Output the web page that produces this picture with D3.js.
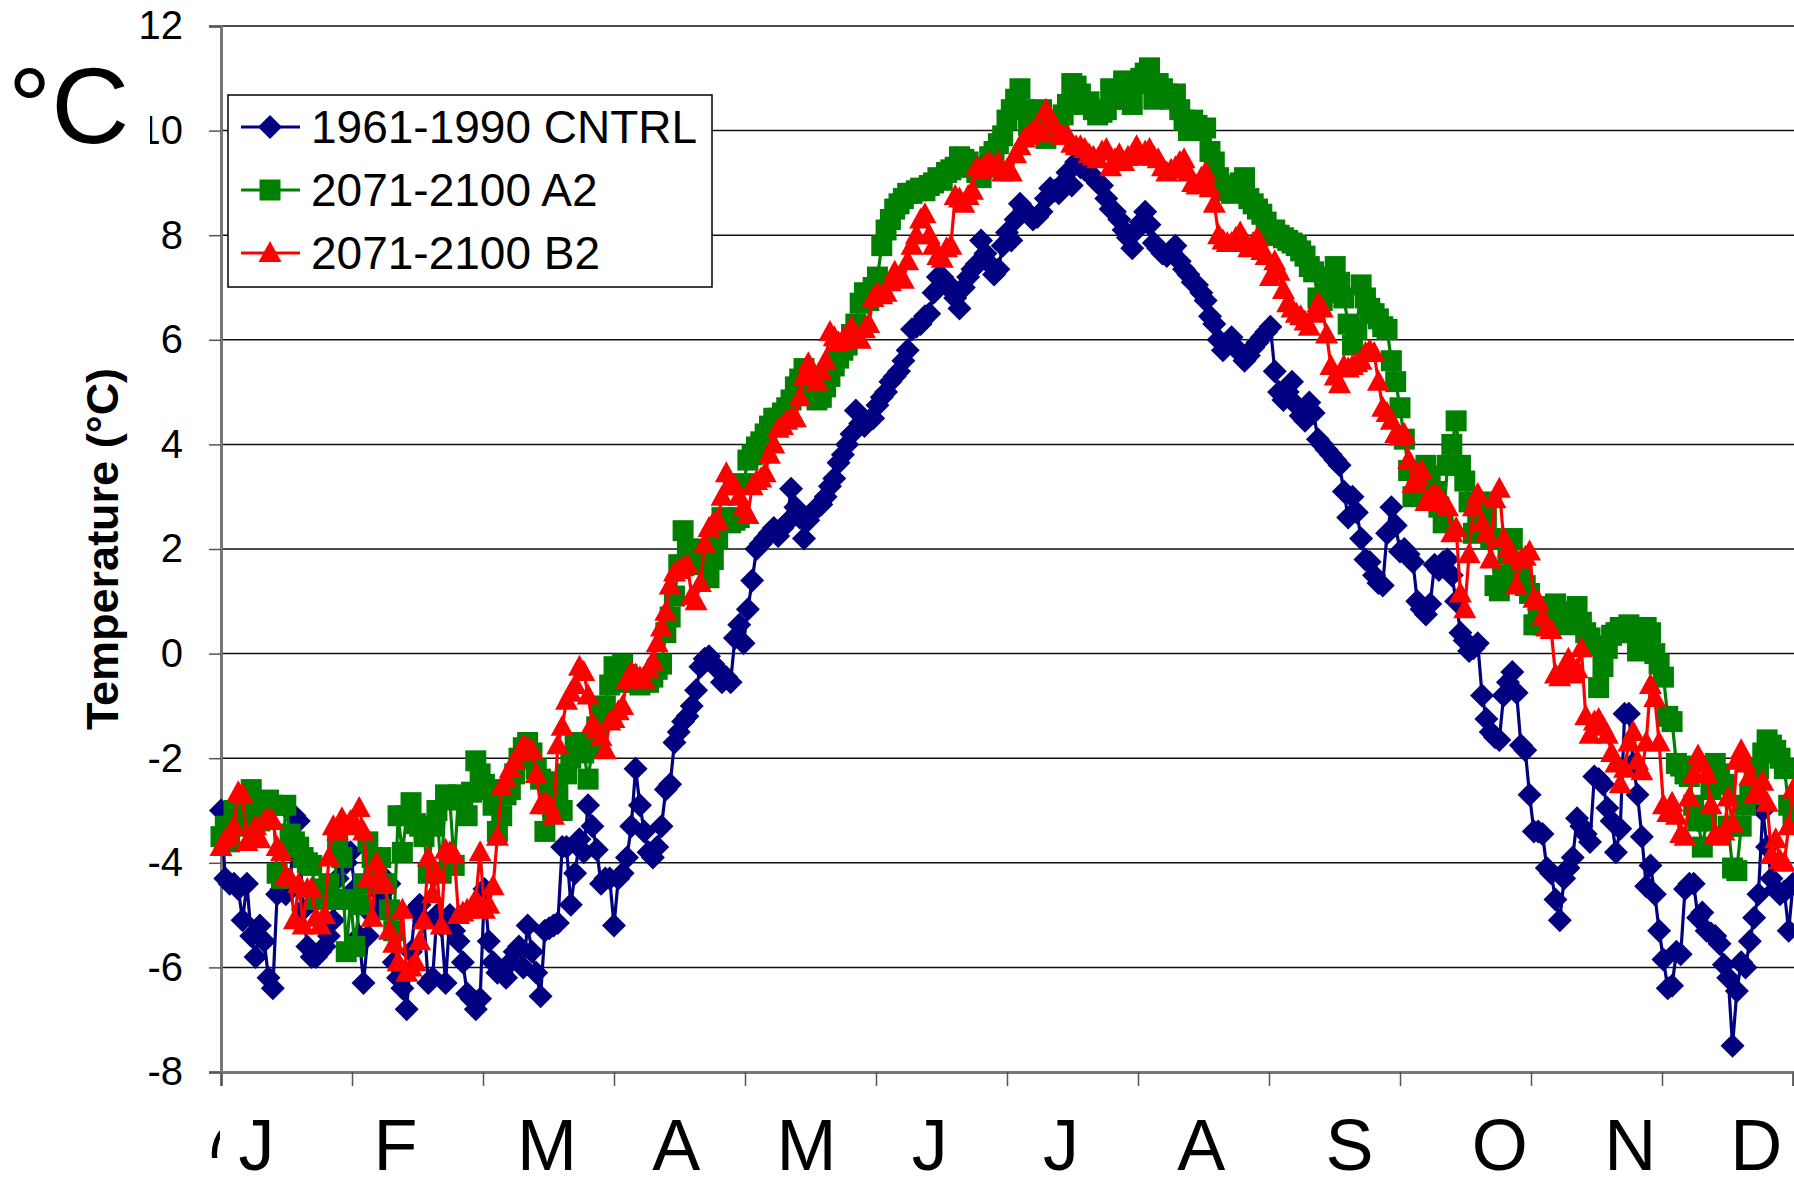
<!DOCTYPE html>
<html>
<head>
<meta charset="utf-8">
<script src="https://cdn.jsdelivr.net/npm/d3@7/dist/d3.min.js"></script>
<style>
  body { margin: 0; background: #fff; }
  svg { display: block; }
  text { font-family: "Liberation Sans", Arial, sans-serif; }
</style>
</head>
<body>
<svg id="chart" width="1794" height="1187"></svg>
<script>
// --- data (daily mean temperature, day 1..365) ---
const seriesNames = ['1961-1990 CNTRL', '2071-2100 A2', '2071-2100 B2'];

const cntrl = [
  -3.0, -4.3, -4.4, -4.4, -4.5, -5.1, -4.4, -5.4, -5.8, -5.2, -5.5, -6.2, -6.4, -4.6, -4.5, -4.6, -4.5, -3.1, -3.2, -4.9, -5.6, -5.8, -5.8, -5.7, -5.6, -5.4, -5.1, -4.3, -3.7, -4.0, -3.8,
  -4.5, -5.4, -6.3, -5.4, -5.0, -4.9, -4.6, -4.3, -4.4, -5.9, -6.2, -6.4, -6.8, -5.7, -4.9, -4.8, -5.1, -6.3, -6.2, -5.0, -5.2, -6.3, -5.0, -5.3, -5.5, -5.9, -6.5, -6.6, -6.8, -6.6, -4.5,
  -5.5, -5.9, -6.1, -6.1, -6.2, -5.9, -5.7, -5.6, -6.0, -5.2, -5.7, -6.1, -6.55, -5.3, -5.25, -5.2, -5.15, -3.7, -3.7, -4.8, -4.2, -3.55, -3.8, -2.9, -3.3, -3.75, -4.4, -4.3, -4.3, -5.2,
  -4.3, -4.2, -3.9, -3.3, -2.2, -2.9, -3.4, -3.8, -3.9, -3.7, -3.3, -2.6, -2.5, -1.7, -1.5, -1.3, -1.2, -1.0, -0.7, -0.25, -0.1, -0.05, -0.2, -0.3, -0.55, -0.45, -0.55, 0.3, 0.55, 0.2, 0.85,
  1.4, 2.0, 2.1, 2.2, 2.3, 2.4, 2.25, 2.4, 2.5, 3.15, 2.8, 2.6, 2.2, 2.55, 2.7, 2.8, 2.85, 3.0, 3.2, 3.35, 3.65, 3.8, 4.0, 4.2, 4.65, 4.4, 4.35, 4.45, 4.5, 4.75,
  4.9, 5.0, 5.2, 5.3, 5.4, 5.6, 5.8, 6.2, 6.25, 6.3, 6.45, 6.5, 6.9, 7.2, 7.2, 7.1, 6.95, 6.8, 6.6, 7.0, 7.2, 7.35, 7.45, 7.9, 7.65, 7.45, 7.25, 7.35, 7.8, 8.05,
  7.9, 8.3, 8.6, 8.5, 8.4, 8.3, 8.35, 8.45, 8.7, 8.9, 8.85, 8.8, 9.0, 9.2, 8.95, 9.4, 9.3, 9.25, 9.2, 9.1, 9.0, 8.95, 8.7, 8.5, 8.45, 8.3, 8.1, 7.95, 7.75, 8.1,
  8.25, 8.45, 8.2, 7.85, 7.75, 7.65, 7.6, 7.7, 7.8, 7.5, 7.35, 7.25, 7.1, 7.05, 6.9, 6.75, 6.45, 6.3, 6.0, 5.8, 5.9, 6.05, 5.85, 5.75, 5.6, 5.7, 5.85, 5.95, 6.05, 6.15, 6.25,
  5.4, 5.0, 4.85, 5.0, 5.2, 4.75, 4.55, 4.45, 4.8, 4.6, 4.1, 4.0, 3.9, 3.8, 3.7, 3.6, 3.1, 2.6, 3.0, 2.7, 2.2, 1.8, 1.75, 1.5, 1.35, 1.3, 2.3, 2.8, 2.45, 1.95,
  2.0, 1.9, 1.75, 1.0, 0.85, 0.75, 0.95, 1.7, 1.6, 1.75, 1.8, 1.5, 1.0, 0.4, 0.25, 0.05, 0.1, 0.2, -0.8, -1.25, -1.5, -1.6, -1.65, -0.8, -0.55, -0.35, -0.75, -1.75, -1.85, -2.7, -3.4,
  -3.4, -3.45, -4.1, -4.2, -4.7, -5.1, -4.3, -4.1, -3.9, -3.15, -3.3, -3.45, -3.6, -2.35, -2.4, -2.5, -2.95, -3.2, -3.8, -3.35, -1.15, -1.15, -2.1, -2.7, -3.5, -4.45, -4.05, -4.6, -5.3, -5.85,
  -6.4, -6.35, -5.7, -5.75, -4.5, -4.4, -4.4, -5.05, -4.95, -5.3, -5.35, -5.4, -5.55, -5.95, -6.2, -7.5, -6.45, -5.9, -6.0, -5.5, -5.05, -4.6, -3.0, -3.7, -4.3, -4.5, -4.6, -4.55, -5.3, -4.4
];

const a2 = [
  -3.5, -3.3, -3.6, -3.0, -3.1, -3.3, -2.9, -2.6, -3.1, -3.2, -3.0, -2.8, -2.9, -4.2, -4.3, -2.9, -3.45, -3.6, -3.7, -3.9, -4.0, -4.05, -4.7, -4.5, -4.6, -4.4, -4.7, -3.6, -3.9, -5.7, -4.7,
  -5.6, -4.8, -4.4, -3.6, -3.9, -4.3, -3.9, -4.4, -4.9, -5.3, -3.1, -3.8, -3.1, -2.85, -3.25, -3.3, -3.5, -4.2, -3.3, -3.0, -4.2, -2.7, -2.8, -4.05, -2.7, -2.75, -3.1, -2.65, -2.05, -2.3, -2.5,
  -2.6, -2.9, -3.4, -3.1, -2.7, -2.6, -2.3, -2.0, -1.8, -1.7, -1.9, -2.2, -2.4, -3.4, -2.5, -2.45, -2.7, -3.0, -2.3, -2.0, -1.75, -1.7, -1.9, -2.4, -1.8, -1.4, -1.1, -1.0, -0.6, -0.25,
  -0.55, -0.2, -0.4, -0.5, -0.55, -0.6, -0.5, -0.55, -0.45, -0.3, -0.2, 0.4, 0.7, 1.1, 1.7, 2.35, 2.0, 1.9, 1.85, 1.7, 2.0, 1.45, 1.8, 2.2, 2.6, 2.55, 2.5, 2.55, 2.6, 3.25, 3.7,
  3.8, 3.95, 4.05, 4.2, 4.35, 4.5, 4.5, 4.6, 4.7, 4.85, 5.1, 5.25, 5.45, 5.3, 5.0, 4.85, 4.9, 5.1, 5.3, 5.5, 5.65, 5.8, 5.9, 6.1, 6.3, 6.7, 6.9, 6.75, 7.0, 7.2,
  7.8, 8.1, 8.3, 8.5, 8.6, 8.7, 8.8, 8.8, 8.85, 8.9, 8.85, 8.95, 9.0, 9.1, 9.05, 9.2, 9.25, 9.3, 9.5, 9.45, 9.4, 9.3, 9.2, 9.1, 9.3, 9.5, 9.6, 9.75, 9.9, 10.2,
  10.4, 10.6, 10.8, 10.4, 10.1, 10.0, 10.3, 10.4, 9.85, 9.95, 10.0, 10.2, 10.3, 10.5, 10.9, 10.85, 10.7, 10.5, 10.55, 10.4, 10.3, 10.35, 10.4, 10.8, 10.6, 10.7, 10.95, 10.6, 10.5, 10.9,
  11.0, 11.1, 11.2, 10.6, 10.9, 10.8, 10.7, 10.6, 10.7, 10.4, 10.2, 10.0, 10.2, 10.1, 10.0, 10.05, 9.6, 9.4, 9.1, 8.95, 8.85, 8.8, 8.9, 9.0, 9.1, 8.7, 8.6, 8.5, 8.4, 8.25, 8.0,
  8.1, 8.0, 7.95, 7.9, 7.85, 7.8, 7.7, 7.6, 7.4, 7.3, 6.8, 6.75, 6.9, 7.2, 7.4, 7.1, 6.8, 6.3, 5.9, 6.2, 7.05, 6.8, 6.6, 6.5, 6.4, 6.25, 6.2, 5.6, 5.2, 4.7,
  4.1, 3.5, 3.0, 3.3, 3.4, 3.6, 3.4, 3.1, 2.8, 2.5, 3.6, 4.0, 4.45, 3.6, 3.3, 2.9, 2.3, 2.6, 2.9, 2.6, 2.2, 1.3, 1.2, 1.5, 1.9, 2.2, 1.7, 1.5, 1.3, 1.15, 0.55,
  0.9, 0.55, 0.7, 0.8, 0.95, 0.8, 0.6, 0.55, 0.7, 0.9, 0.6, 0.4, 0.3, 0.15, -0.65, -0.25, 0.1, 0.35, 0.4, 0.5, 0.45, 0.55, 0.4, 0.05, 0.3, 0.5, 0.4, 0.0, -0.2, -0.45,
  -1.2, -1.3, -2.1, -2.15, -2.3, -2.35, -2.9, -3.2, -3.7, -3.2, -2.6, -2.1, -2.3, -2.5, -3.3, -4.1, -4.15, -3.3, -2.9, -2.7, -2.45, -2.2, -1.9, -1.65, -1.75, -1.85, -2.0, -2.2, -2.9, -3.2
];

const b2 = [
  -3.7, -3.55, -3.45, -3.3, -2.65, -2.7, -3.6, -3.5, -3.3, -3.55, -3.2, -3.15, -3.2, -3.7, -3.8, -4.25, -4.3, -5.1, -4.4, -5.2, -4.5, -4.5, -5.05, -5.2, -5.0, -3.9, -3.3, -3.4, -3.15, -3.3, -3.2,
  -3.25, -2.95, -3.4, -4.3, -5.05, -4.0, -4.3, -4.4, -5.3, -5.55, -5.9, -4.9, -6.1, -6.0, -5.9, -5.5, -5.1, -3.9, -4.6, -4.2, -5.2, -3.75, -3.8, -3.85, -5.0, -4.95, -4.9, -4.85, -4.7, -3.8, -4.9,
  -4.8, -4.45, -3.5, -2.55, -2.4, -2.2, -2.05, -1.9, -1.75, -1.8, -1.85, -2.3, -2.9, -2.85, -2.9, -3.1, -1.75, -1.4, -0.9, -0.75, -0.6, -0.25, -0.35, -0.8, -1.35, -1.45, -1.6, -1.85, -1.3, -1.25,
  -1.1, -1.0, -0.5, -0.35, -0.4, -0.45, -0.5, -0.3, -0.15, 0.2, 0.5, 0.8, 1.3, 1.55, 1.6, 1.65, 1.7, 1.1, 1.0, 1.35, 2.1, 2.4, 2.5, 2.55, 3.0, 3.45, 3.2, 3.2, 3.0, 2.8, 2.65,
  3.2, 3.3, 3.35, 3.45, 3.8, 4.0, 4.3, 4.35, 4.45, 4.5, 4.5, 4.9, 5.3, 5.55, 5.4, 5.2, 5.4, 5.6, 6.15, 6.05, 5.95, 6.0, 6.1, 6.25, 6.1, 6.0, 6.2, 6.3, 6.8, 6.9,
  6.85, 6.9, 7.1, 7.3, 7.2, 7.15, 7.5, 7.8, 8.0, 8.3, 8.4, 8.0, 7.8, 7.6, 7.55, 7.75, 7.8, 8.75, 8.7, 8.6, 8.75, 8.85, 9.3, 9.25, 9.35, 9.4, 9.3, 9.4, 9.2, 9.25,
  9.2, 9.55, 9.7, 9.85, 9.9, 10.0, 10.05, 9.95, 10.4, 10.25, 10.1, 9.95, 9.9, 9.9, 9.75, 9.7, 9.7, 9.65, 9.55, 9.5, 9.45, 9.6, 9.65, 9.3, 9.45, 9.55, 9.4, 9.5, 9.55, 9.7,
  9.5, 9.6, 9.65, 9.5, 9.45, 9.3, 9.2, 9.25, 9.3, 9.4, 9.45, 9.2, 9.0, 8.95, 9.1, 9.2, 8.9, 8.6, 8.0, 7.9, 7.85, 7.85, 7.95, 8.05, 7.9, 7.75, 7.85, 7.95, 7.7, 7.6, 7.2,
  7.5, 7.3, 6.95, 6.7, 6.6, 6.5, 6.45, 6.35, 6.25, 6.5, 6.7, 6.6, 6.1, 5.5, 5.3, 5.15, 5.5, 5.45, 5.5, 5.55, 5.6, 5.75, 5.8, 5.75, 5.2, 4.7, 4.6, 4.45, 4.2, 4.15,
  4.2, 3.7, 3.25, 3.4, 3.5, 2.9, 3.0, 3.05, 3.0, 2.9, 2.8, 2.3, 2.4, 1.15, 0.85, 1.9, 2.8, 3.05, 2.5, 2.3, 1.8, 2.95, 3.15, 2.2, 2.0, 1.9, 1.3, 1.8, 1.85, 1.95, 1.05,
  1.0, 0.7, 0.5, 0.45, -0.4, -0.45, -0.3, -0.1, -0.4, -0.3, 0.1, -1.2, -1.55, -1.3, -1.25, -1.4, -1.55, -1.9, -2.1, -2.5, -2.2, -1.7, -1.5, -2.05, -2.25, -1.7, -0.6, -0.85, -1.7, -2.9,
  -3.05, -2.85, -3.1, -3.45, -3.5, -2.75, -2.3, -1.95, -2.1, -2.3, -2.9, -3.45, -3.5, -3.4, -2.75, -3.25, -2.05, -1.85, -2.1, -2.35, -2.7, -2.6, -2.45, -2.85, -3.85, -3.55, -3.95, -4.0, -3.3, -2.6
];

const yTicks = [-8, -6, -4, -2, 0, 2, 4, 6, 8, 10, 12];
const monthLabels = ['J', 'F', 'M', 'A', 'M', 'J', 'J', 'A', 'S', 'O', 'N', 'D'];
// where each month letter sits, in day units
const monthLabelDay = [9.2, 41.4, 76.5, 106.4, 136.6, 165.1, 195.5, 228, 262.3, 297.1, 327.3, 356.5];

const W = 1794, H = 1187;
const svg = d3.select('#chart');

const x = d3.scaleLinear().domain([1, 365]).range([221, 1793]);
const y = d3.scaleLinear().domain([-8, 12]).range([1072, 26]);

const colors = ['#000080', '#008000', '#ff0000'];

// marker shapes (Excel-like): diamond, square, triangle
function markerPath(kind) {
    if (kind === 0) return 'M0,-12L12,0L0,12L-12,0Z';
    if (kind === 1) return 'M-10.5,-10.5H10.5V10.5H-10.5Z';
    return 'M0,-12L11.5,9L-11.5,9Z';
}

// gridlines
svg.append('g')
    .selectAll('line')
    .data(yTicks.filter(t => t > -8))
    .enter()
    .append('line')
    .attr('x1', x(1)).attr('x2', W)
    .attr('y1', d => y(d)).attr('y2', d => y(d))
    .attr('stroke', '#111')
    .attr('stroke-width', 1.5);

// y axis
const yAxis = d3.axisLeft(y).tickValues(yTicks).tickSize(12).tickPadding(26).tickFormat(d => String(d));
const gy = svg.append('g')
    .attr('transform', `translate(${x(1)},0)`)
    .call(yAxis);
gy.select('.domain').attr('stroke', '#777').attr('stroke-width', 3);
gy.selectAll('.tick line').attr('stroke', '#555').attr('stroke-width', 1.5);
gy.selectAll('.tick text')
    .attr('font-size', 40)
    .attr('fill', '#000')
    .attr('font-family', '"Liberation Sans", Arial, sans-serif');

// x axis with month ticks
const monthTicks = d3.range(13).map(k => 1 + k * 364 / 12);
const xAxis = d3.axisBottom(x).tickValues(monthTicks).tickSize(14).tickFormat('');
const gx = svg.append('g')
    .attr('transform', `translate(0,${y(-8)})`)
    .call(xAxis);
gx.select('.domain').attr('stroke', '#777').attr('stroke-width', 3);
gx.selectAll('.tick line').attr('stroke', '#555').attr('stroke-width', 1.5);

// month letters
svg.append('g')
    .selectAll('text')
    .data(monthLabels)
    .enter()
    .append('text')
    .attr('x', (d, i) => x(monthLabelDay[i]))
    .attr('y', 1170)
    .attr('text-anchor', 'middle')
    .attr('font-size', 72)
    .text(d => d);

// clipped glyph left of the first month letter
svg.append('clipPath').attr('id', 'stubClip')
    .append('rect').attr('x', 200).attr('y', 1110).attr('width', 20).attr('height', 48);
svg.append('text')
    .attr('x', 208).attr('y', 1170)
    .attr('font-size', 60)
    .attr('clip-path', 'url(#stubClip)')
    .text('(');

// series
const line = d3.line()
    .x((d, i) => x(i + 1))
    .y(d => y(d));

[cntrl, a2, b2].forEach((vals, s) => {
    const g = svg.append('g').attr('class', 'series');
    g.append('path')
        .datum(vals)
        .attr('d', line)
        .attr('fill', 'none')
        .attr('stroke', colors[s])
        .attr('stroke-width', 3.2)
        .attr('stroke-linejoin', 'round');
    g.selectAll('path.marker')
        .data(vals)
        .enter()
        .append('path')
        .attr('class', 'marker')
        .attr('d', markerPath(s))
        .attr('transform', (d, i) => `translate(${x(i + 1)},${y(d)})`)
        .attr('fill', colors[s]);
});

// y axis title
svg.append('text')
    .attr('transform', 'translate(118,549) rotate(-90)')
    .attr('text-anchor', 'middle')
    .attr('font-size', 45)
    .attr('font-weight', 'bold')
    .text('Temperature (°C)');

// big unit label, its white box hides part of the "10"
svg.append('rect')
    .attr('x', 0).attr('y', 52).attr('width', 150).attr('height', 100)
    .attr('fill', '#fff');
svg.append('text')
    .attr('x', 8).attr('y', 143)
    .attr('font-size', 108)
    .text('°C');

// legend
const leg = svg.append('g').attr('transform', 'translate(228,95)');
leg.append('rect')
    .attr('width', 484).attr('height', 192)
    .attr('fill', '#fff')
    .attr('stroke', '#000')
    .attr('stroke-width', 1.5);
seriesNames.forEach((name, s) => {
    const row = leg.append('g').attr('transform', `translate(0,${32 + s * 63})`);
    row.append('line')
        .attr('x1', 13).attr('x2', 72)
        .attr('stroke', colors[s]).attr('stroke-width', 3);
    row.append('path')
        .attr('d', markerPath(s))
        .attr('transform', 'translate(42,0)')
        .attr('fill', colors[s]);
    row.append('text')
        .attr('x', 83).attr('y', 16)
        .attr('font-size', 46)
        .text(name);
});
</script>
</body>
</html>
